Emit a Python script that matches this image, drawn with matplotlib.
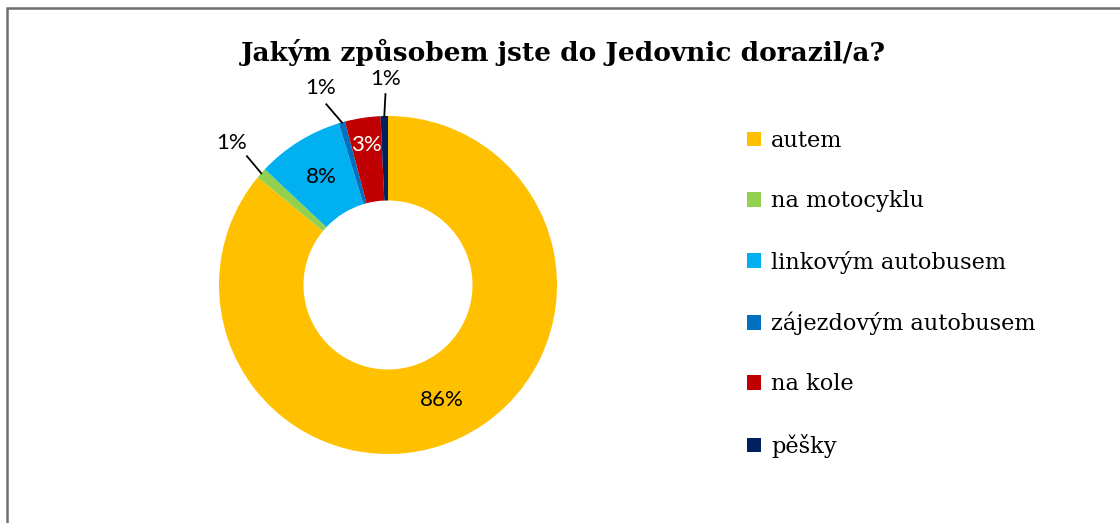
#!/usr/bin/env python3
"""Doughnut chart: Jakým způsobem jste do Jedovnic dorazil/a?"""

import numpy as np
import matplotlib
matplotlib.use("Agg")
import matplotlib.pyplot as plt
from matplotlib.patches import Rectangle, Patch

CATEGORIES = ["autem", "na motocyklu", "linkovým autobusem",
              "zájezdovým autobusem", "na kole", "pěšky"]
SHARES = [86.0, 1.0, 8.3, 0.6, 3.4, 0.7]
COLORS = ["#FFC000", "#92D050", "#00B0F0", "#0070C0", "#C00000", "#002060"]
LABELS = ["86%", "1%", "8%", "1%", "3%", "1%"]
TITLE = "Jakým způsobem jste do Jedovnic dorazil/a?"

# label placement per slice: (inside?, radius, extra angle deg, text colour)
LABEL_STYLE = [
    (True, 0.75, 0, "black"),
    (False, 1.25, -1, "black"),
    (True, 0.75, 0, "black"),
    (False, 1.23, 3, "black"),
    (True, 0.84, 0, "white"),
    (False, 1.22, -0.5, "black"),
]

W, H = 1120, 523
fig = plt.figure(figsize=(W / 100, H / 100), dpi=100)

# chart frame
fig.patches.append(Rectangle((7 / W, -0.1), 1.2, (H - 8) / H + 0.1,
                             transform=fig.transFigure, fill=False,
                             edgecolor="#6f6f6f", linewidth=1.8))

fig.text(563 / W, 1 - 52 / H, TITLE, ha="center", va="center",
         fontsize=19, fontweight="bold", family="DejaVu Serif")

cx, cy, r = 388, 285, 169
ax = fig.add_axes([(cx - r) / W, (H - cy - r) / H, 2 * r / W, 2 * r / H])
wedges, _ = ax.pie(SHARES, colors=COLORS, startangle=90, counterclock=False,
                   wedgeprops=dict(width=0.5, linewidth=0))
ax.set_xlim(-1, 1)
ax.set_ylim(-1, 1)
ax.set_aspect("equal")
ax.axis("off")

total = sum(SHARES)
cum = np.cumsum([0] + SHARES[:-1])
for share, start, label, (inside, rad, dang, tcol) in zip(SHARES, cum, LABELS, LABEL_STYLE):
    mid = 90 - (start + share / 2) / total * 360
    a = np.deg2rad(mid + dang)
    if not inside:
        am = np.deg2rad(mid)
        ax.plot([np.cos(am), 1.13 * np.cos(a)], [np.sin(am), 1.13 * np.sin(a)],
                color="black", linewidth=1.3, clip_on=False)
    ax.text(rad * np.cos(a), rad * np.sin(a), label, ha="center", va="center",
            fontsize=16, family="Lato", color=tcol, clip_on=False)

handles = [Patch(facecolor=c, edgecolor="none") for c in COLORS]
fig.legend(handles, CATEGORIES, loc="upper left",
           bbox_to_anchor=(747 / W, 1 - 130 / H), frameon=False,
           prop=dict(family="DejaVu Serif", size=16.2),
           handlelength=0.62, handleheight=0.62, handletextpad=0.45,
           labelspacing=1.7, borderpad=0, borderaxespad=0)

fig.savefig("out.png", dpi=100)
